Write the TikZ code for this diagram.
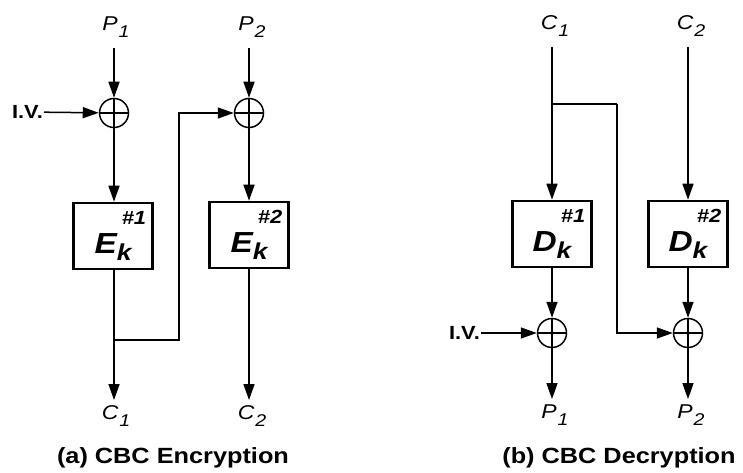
\documentclass[tikz,border=0pt]{standalone}
\usepackage{fontspec}
\setmainfont{Liberation Sans}[FakeStretch=1.15]
\usetikzlibrary{arrows.meta}
\newcommand\lblsub[2]{#1\kern1pt\raisebox{-0.38em}{\fontsize{17}{17}\selectfont #2}}
\newcommand\opsub[2]{#1\raisebox{-0.25em}{\fontsize{23}{23}\selectfont #2}}
\begin{document}
\begin{tikzpicture}[x=1pt,y=-1pt,
  lbl/.style={font=\fontsize{20}{20}\selectfont\itshape, inner sep=0pt},
  ivtxt/.style={font=\fontsize{19}{19}\selectfont\bfseries, inner sep=1pt},
  captxt/.style={font=\fontsize{22}{22}\selectfont\bfseries, inner sep=0pt},
  xorc/.style={circle, draw, line width=1.5pt, minimum size=29pt, inner sep=0pt,
    path picture={\draw[line width=1.3pt] (path picture bounding box.north) -- (path picture bounding box.south)
      (path picture bounding box.west) -- (path picture bounding box.east);}},
  cbox/.style={draw, line width=2.6pt, minimum width=79pt, minimum height=66pt, inner sep=0pt},
  numtxt/.style={font=\fontsize{19}{19}\selectfont\bfseries\itshape, inner sep=0pt},
  optxt/.style={font=\fontsize{29}{29}\selectfont\bfseries\itshape, inner sep=0pt},
  arr/.style={-{Triangle[length=16pt,width=11pt]}, line width=1.5pt},
  ln/.style={line width=1.5pt}]
\useasboundingbox (0,0) rectangle (743,473);
% ---------- (a) encryption ----------
\node[lbl] (P1) at (116,27) {\lblsub{P}{1}};
\node[lbl] (P2) at (252,27) {\lblsub{P}{2}};
\node[xorc] (X1) at (114,113) {};
\node[xorc] (X2) at (249,113) {};
\node[ivtxt, anchor=east] (IV1) at (44,112) {I.V.};
\node[cbox] (E1) at (113,236) {};
\node[cbox] (E2) at (249,235) {};
\node[numtxt] (n1) at (134,218) {\#1};
\node[numtxt] (n2) at (270,217) {\#2};
\node[optxt] (o1) at (113,247) {\opsub{E}{k}};
\node[optxt] (o2) at (249,246) {\opsub{E}{k}};
\node[lbl] (C1) at (116,416) {\lblsub{C}{1}};
\node[lbl] (C2) at (252,416) {\lblsub{C}{2}};
\coordinate (b1) at (114,340);
\draw[arr, shorten <=10pt] (P1.south -| X1) -- (X1);
\draw[arr, shorten <=10pt] (P2.south -| X2) -- (X2);
\draw[arr] (IV1) -- (X1);
\draw[arr] (X1) -- (E1.north -| X1);
\draw[arr] (X2) -- (E2);
\draw[arr, shorten >=5pt] (E1.south -| b1) -- (C1.north -| b1);
\draw[arr, shorten >=5pt] (E2) -- (C2.north -| E2);
\draw[arr] (b1) -- ++(65,0) |- (X2);
\node[captxt] (capA) at (173,458) {(a) CBC Encryption};
% ---------- (b) decryption ----------
\node[lbl] (C1d) at (555,26) {\lblsub{C}{1}};
\node[lbl] (C2d) at (691,26) {\lblsub{C}{2}};
\node[cbox] (D1) at (552,234) {};
\node[cbox] (D2) at (688,234) {};
\node[numtxt] (n3) at (573,216) {\#1};
\node[numtxt] (n4) at (709,216) {\#2};
\node[optxt] (o3) at (552,245) {\opsub{D}{k}};
\node[optxt] (o4) at (688,245) {\opsub{D}{k}};
\node[xorc] (X3) at (552,333) {};
\node[xorc] (X4) at (688,333) {};
\node[ivtxt, anchor=east] (IV2) at (481,333) {I.V.};
\node[lbl] (P1d) at (555,415) {\lblsub{P}{1}};
\node[lbl] (P2d) at (691,415) {\lblsub{P}{2}};
\coordinate (b2) at (552,104);
\draw[arr, shorten <=10pt] (C1d.south -| D1) -- (D1);
\draw[arr, shorten <=10pt] (C2d.south -| D2) -- (D2);
\draw[ln] (b2) -- ++(65,0) coordinate (b2r);
\draw[arr] (b2r) |- (X4);
\draw[arr] (D1) -- (X3);
\draw[arr] (D2) -- (X4);
\draw[arr] (IV2) -- (X3);
\draw[arr, shorten >=5pt] (X3) -- (P1d.north -| X3);
\draw[arr, shorten >=5pt] (X4) -- (P2d.north -| X4);
\node[captxt] (capB) at (619,458) {(b) CBC Decryption};
\end{tikzpicture}
\end{document}
